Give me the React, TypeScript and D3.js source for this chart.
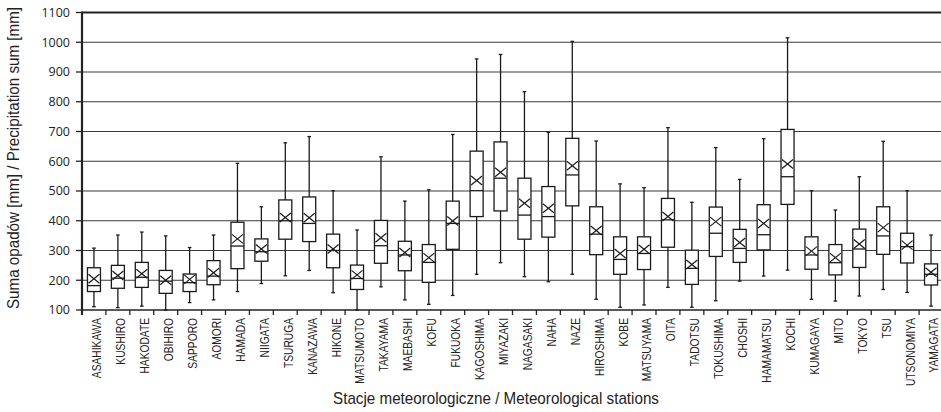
import React from "react";
import * as d3 from "d3";

const stations = [
  "ASAHIKAWA", "KUSHIRO", "HAKODATE", "OBIHIRO", "SAPPORO", "AOMORI", "HAMADA", "NIIGATA",
  "TSURUGA", "KANAZAWA", "HIKONE", "MATSUMOTO", "TAKAYAMA", "MAEBASHI", "KOFU", "FUKUOKA",
  "KAGOSHIMA", "MIYAZAKI", "NAGASAKI", "NAHA", "NAZE", "HIROSHIMA", "KOBE", "MATSUYAMA",
  "OITA", "TADOTSU", "TOKUSHIMA", "CHOSHI", "HAMAMATSU", "KOCHI", "KUMAGAYA", "MITO",
  "TOKYO", "TSU", "UTSONOMIYA", "YAMAGATA",
];
const whiskerLow = [111, 108, 113, 100, 125, 134, 162, 189, 215, 233, 158, 100, 178, 134, 119, 149, 220, 259, 212, 195, 220, 136, 109, 117, 176, 109, 131, 197, 214, 234, 136, 130, 147, 169, 159, 113];
const q1 = [162, 173, 176, 156, 162, 185, 239, 264, 338, 330, 242, 169, 257, 232, 193, 304, 414, 433, 338, 345, 450, 286, 220, 236, 311, 186, 280, 260, 302, 455, 237, 218, 243, 287, 258, 184];
const median = [182, 207, 210, 197, 192, 214, 315, 296, 400, 391, 300, 206, 316, 285, 260, 391, 501, 543, 419, 414, 554, 355, 270, 290, 403, 240, 358, 307, 353, 548, 285, 259, 305, 349, 313, 220];
const q3 = [242, 250, 260, 233, 221, 266, 395, 339, 470, 480, 355, 251, 401, 331, 320, 466, 634, 665, 543, 515, 677, 447, 346, 346, 475, 301, 446, 371, 454, 707, 346, 320, 372, 447, 358, 255];
const whiskerHigh = [308, 352, 362, 349, 310, 352, 593, 447, 662, 683, 501, 369, 615, 466, 504, 690, 944, 959, 834, 697, 1003, 668, 524, 511, 713, 462, 646, 539, 676, 1015, 501, 436, 548, 667, 501, 352];
const mean = [205, 216, 222, 200, 203, 225, 339, 305, 411, 410, 305, 218, 343, 293, 276, 399, 535, 563, 459, 442, 585, 367, 290, 304, 414, 253, 397, 327, 391, 591, 298, 276, 322, 377, 318, 227];
const yTicks = [100, 200, 300, 400, 500, 600, 700, 800, 900, 1000, 1100];

const W = 941;
const H = 412;
const left = 82;
const right = 943;
const top = 12.5;
const bottom = 310;

export default function App() {
  const x = d3.scaleBand().domain(stations).range([left, right]).padding(0);
  const y = d3.scaleLinear().domain([100, 1100]).range([bottom, top]);
  const bw = 13;
  const xh = 4.5;

  return (
    <svg width={W} height={H} style={{ position: "absolute", left: 0, top: 0, background: "#fff" }}>
      {yTicks.map((t) => (
        <g key={t}>
          {t > 100 && (
            <line x1={left} x2={W} y1={y(t)} y2={y(t)} stroke={t === 1100 ? "#222" : "#3a3a3a"} strokeWidth={t === 1100 ? 2 : 1.2} />
          )}
          <line x1={left - 6} x2={left} y1={y(t)} y2={y(t)} stroke="#222" strokeWidth={1.3} />
          <text x={70} y={y(t)} dy="0.35em" textAnchor="end" fontFamily="Open Sans, DejaVu Sans, sans-serif" fontSize={12.5} fill="#222">
            {t}
          </text>
        </g>
      ))}
      <line x1={left} x2={W} y1={bottom} y2={bottom} stroke="#222" strokeWidth={1.6} />
      <line x1={left} x2={left} y1={top - 1} y2={bottom + 5} stroke="#222" strokeWidth={2.2} />
      {stations.map((s) => (
        <line key={"tk" + s} x1={(x(s) as number) + x.bandwidth()} x2={(x(s) as number) + x.bandwidth()} y1={bottom} y2={bottom + 5} stroke="#222" strokeWidth={1.3} />
      ))}
      {stations.map((s, i) => {
        const cx = (x(s) as number) + x.bandwidth() / 2;
        return (
          <g key={s} stroke="#1a1a1a" fill="none">
            <line x1={cx} x2={cx} y1={y(whiskerLow[i])} y2={y(q1[i])} strokeWidth={1.3} />
            <line x1={cx} x2={cx} y1={y(q3[i])} y2={y(whiskerHigh[i])} strokeWidth={1.3} />
            <line x1={cx - 1.8} x2={cx + 1.8} y1={y(whiskerLow[i])} y2={y(whiskerLow[i])} strokeWidth={1.3} />
            <line x1={cx - 1.8} x2={cx + 1.8} y1={y(whiskerHigh[i])} y2={y(whiskerHigh[i])} strokeWidth={1.3} />
            <rect x={cx - bw / 2} y={y(q3[i])} width={bw} height={y(q1[i]) - y(q3[i])} fill="#fff" strokeWidth={1.3} />
            <line x1={cx - bw / 2} x2={cx + bw / 2} y1={y(median[i])} y2={y(median[i])} strokeWidth={1.3} />
            <line x1={cx - bw / 2 + 1} x2={cx + bw / 2 - 1} y1={y(mean[i]) - xh} y2={y(mean[i]) + xh} strokeWidth={1.2} />
            <line x1={cx - bw / 2 + 1} x2={cx + bw / 2 - 1} y1={y(mean[i]) + xh} y2={y(mean[i]) - xh} strokeWidth={1.2} />
          </g>
        );
      })}
      {stations.map((s) => {
        const cx = (x(s) as number) + x.bandwidth() / 2;
        return (
          <text key={"lb" + s} transform={`translate(${cx + 3},${bottom + 8}) rotate(-90) scale(0.82,1)`} textAnchor="end" dy="0.35em"
            fontFamily="Liberation Sans, Arial, sans-serif" fontSize={12.5} fill="#222">
            {s}
          </text>
        );
      })}
      <text transform={`translate(19,158) rotate(-90) scale(0.95,1)`} textAnchor="middle" fontFamily="Liberation Sans, Arial, sans-serif" fontSize={16} fill="#222">
        Suma opadów [mm] / Precipitation sum [mm]
      </text>
      <text transform={`translate(496,404) scale(0.95,1)`} textAnchor="middle" fontFamily="Liberation Sans, Arial, sans-serif" fontSize={16} fill="#222">
        Stacje meteorologiczne / Meteorological stations
      </text>
    </svg>
  );
}
